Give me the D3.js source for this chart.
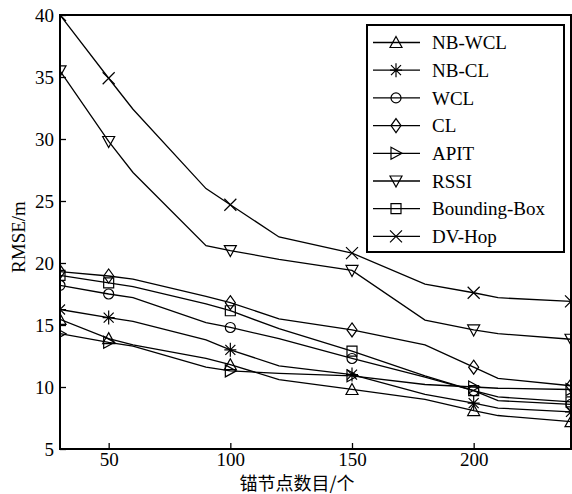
<!DOCTYPE html>
<html>
<head>
<meta charset="utf-8">
<script src="https://cdn.jsdelivr.net/npm/d3@7"></script>
<style>
  body { margin: 0; background: #fff; }
  svg text { font-family: "Liberation Serif", "Times New Roman", serif; fill: #000; }
</style>
</head>
<body>
<div id="chart"></div>
<script>
// x positions of the polyline vertices (anchor node count)
let xs = [30, 50, 60, 90, 100, 120, 150, 180, 200, 210, 240];
// where markers are drawn
let markerX = [30, 50, 100, 150, 200, 240];

let seriesNames = ['NB-WCL', 'NB-CL', 'WCL', 'CL', 'APIT', 'RSSI', 'Bounding-Box', 'DV-Hop'];
let seriesMarks = ['triUp', 'star', 'circle', 'diamond', 'triRight', 'triDown', 'square', 'cross'];

let nbwcl = [15.45, 13.9, 13.4, 12.3, 11.8, 10.6, 9.8, 9.0, 8.1, 7.7, 7.2];
let nbcl  = [16.25, 15.6, 15.3, 13.8, 13.0, 11.7, 11.0, 9.4, 8.7, 8.3, 8.0];
let wcl   = [18.2, 17.5, 17.2, 15.2, 14.8, 13.9, 12.3, 10.8, 9.7, 8.9, 8.6];
let cl    = [19.3, 18.95, 18.7, 17.3, 16.8, 15.5, 14.6, 13.4, 11.6, 10.7, 10.1];
let apit  = [14.3, 13.6, 13.3, 11.6, 11.3, 11.1, 10.9, 10.2, 10.0, 9.9, 9.8];
let rssi  = [35.5, 29.8, 27.3, 21.4, 21.0, 20.3, 19.4, 15.4, 14.6, 14.3, 13.85];
let bbox  = [19.0, 18.4, 18.1, 16.7, 16.15, 14.7, 12.9, 10.9, 9.7, 9.2, 8.8];
let dvhop = [40.0, 34.9, 32.4, 26.0, 24.7, 22.1, 20.8, 18.3, 17.6, 17.2, 16.9];

let seriesValues = [nbwcl, nbcl, wcl, cl, apit, rssi, bbox, dvhop];

let xTicks = [50, 100, 150, 200];
let yTicks = [5, 10, 15, 20, 25, 30, 35, 40];

let width = 572, height = 494;
let margin = {top: 15, right: 1, bottom: 45, left: 60};

let svg = d3.select('#chart').append('svg')
    .attr('width', width)
    .attr('height', height);

let x = d3.scaleLinear().domain([30, 240]).range([margin.left, width - margin.right]);
let y = d3.scaleLinear().domain([5, 40]).range([height - margin.bottom, margin.top]);

svg.append('clipPath').attr('id', 'plotClip')
  .append('rect')
    .attr('x', margin.left).attr('y', margin.top)
    .attr('width', width - margin.right - margin.left)
    .attr('height', height - margin.bottom - margin.top);

// marker shapes, centred on 0,0
function markerPath(type) {
  switch (type) {
    case 'triUp':    return 'M0,-6L6,5L-6,5Z';
    case 'triDown':  return 'M-6,-5L6,-5L0,6Z';
    case 'triRight': return 'M-5,-6L6,0L-5,6Z';
    case 'diamond':  return 'M0,-7L5,0L0,7L-5,0Z';
    case 'square':   return 'M-5,-5L5,-5L5,5L-5,5Z';
    case 'circle':   return 'M5,0A5,5 0 1,1 -5,0A5,5 0 1,1 5,0Z';
    case 'cross':    return 'M-6,-6L6,6M-6,6L6,-6';
    case 'star':     return 'M0,-7L0,7M-6,0L6,0M-5,-5L5,5M-5,5L5,-5';
  }
}

let line = d3.line()
    .x((d, i) => x(xs[i]))
    .y(d => y(d));

let plot = svg.append('g').attr('clip-path', 'url(#plotClip)');

seriesValues.forEach(function(vals, s) {
  plot.append('path')
      .datum(vals)
      .attr('d', line)
      .attr('fill', 'none')
      .attr('stroke', '#000')
      .attr('stroke-width', 1.3);

  let pts = markerX.map(mx => ({x: mx, v: vals[xs.indexOf(mx)]}));
  plot.selectAll(null)
      .data(pts)
    .enter().append('path')
      .attr('transform', d => 'translate(' + x(d.x) + ',' + y(d.v) + ')')
      .attr('d', markerPath(seriesMarks[s]))
      .attr('fill', 'none')
      .attr('stroke', '#000')
      .attr('stroke-width', 1.2);
});

// axes with inward ticks
let xAxis = svg.append('g')
    .attr('transform', 'translate(0,' + (height - margin.bottom) + ')')
    .call(d3.axisBottom(x).tickValues(xTicks).tickSizeInner(-6).tickSizeOuter(0).tickPadding(3));
let yAxis = svg.append('g')
    .attr('transform', 'translate(' + margin.left + ',0)')
    .call(d3.axisLeft(y).tickValues(yTicks).tickSizeInner(-6).tickSizeOuter(0).tickPadding(6));

[xAxis, yAxis].forEach(function(a) {
  a.select('.domain').remove();
  a.selectAll('line').attr('stroke', '#000').attr('stroke-width', 1.3);
  a.selectAll('text')
      .style('font-family', '"Liberation Serif", "Times New Roman", serif')
      .style('font-size', '19px')
      .attr('fill', '#000');
});

// plot frame
svg.append('rect')
    .attr('x', margin.left).attr('y', margin.top)
    .attr('width', width - margin.right - margin.left)
    .attr('height', height - margin.bottom - margin.top)
    .attr('fill', 'none')
    .attr('stroke', '#000')
    .attr('stroke-width', 2);

// axis titles
svg.append('text')
    .attr('x', 297).attr('y', 490)
    .attr('text-anchor', 'middle')
    .style('font-family', '"Noto Sans CJK SC", sans-serif')
    .style('font-size', '18px')
    .text('锚节点数目/个');

svg.append('text')
    .attr('transform', 'translate(25,237) rotate(-90)')
    .attr('text-anchor', 'middle')
    .style('font-size', '19px')
    .text('RMSE/m');

// legend
let lg = svg.append('g');
lg.append('rect')
    .attr('x', 367).attr('y', 25)
    .attr('width', 197).attr('height', 227)
    .attr('fill', '#fff')
    .attr('stroke', '#000')
    .attr('stroke-width', 2);

seriesNames.forEach(function(name, i) {
  let ly = 42.5 + i * 27.7;
  lg.append('line')
      .attr('x1', 373).attr('x2', 420)
      .attr('y1', ly).attr('y2', ly)
      .attr('stroke', '#000').attr('stroke-width', 1.3);
  lg.append('path')
      .attr('transform', 'translate(396,' + ly + ')')
      .attr('d', markerPath(seriesMarks[i]))
      .attr('fill', 'none')
      .attr('stroke', '#000')
      .attr('stroke-width', 1.2);
  lg.append('text')
      .attr('x', 432).attr('y', ly)
      .attr('dy', '0.35em')
      .style('font-size', '19px')
      .text(name);
});
</script>
</body>
</html>
